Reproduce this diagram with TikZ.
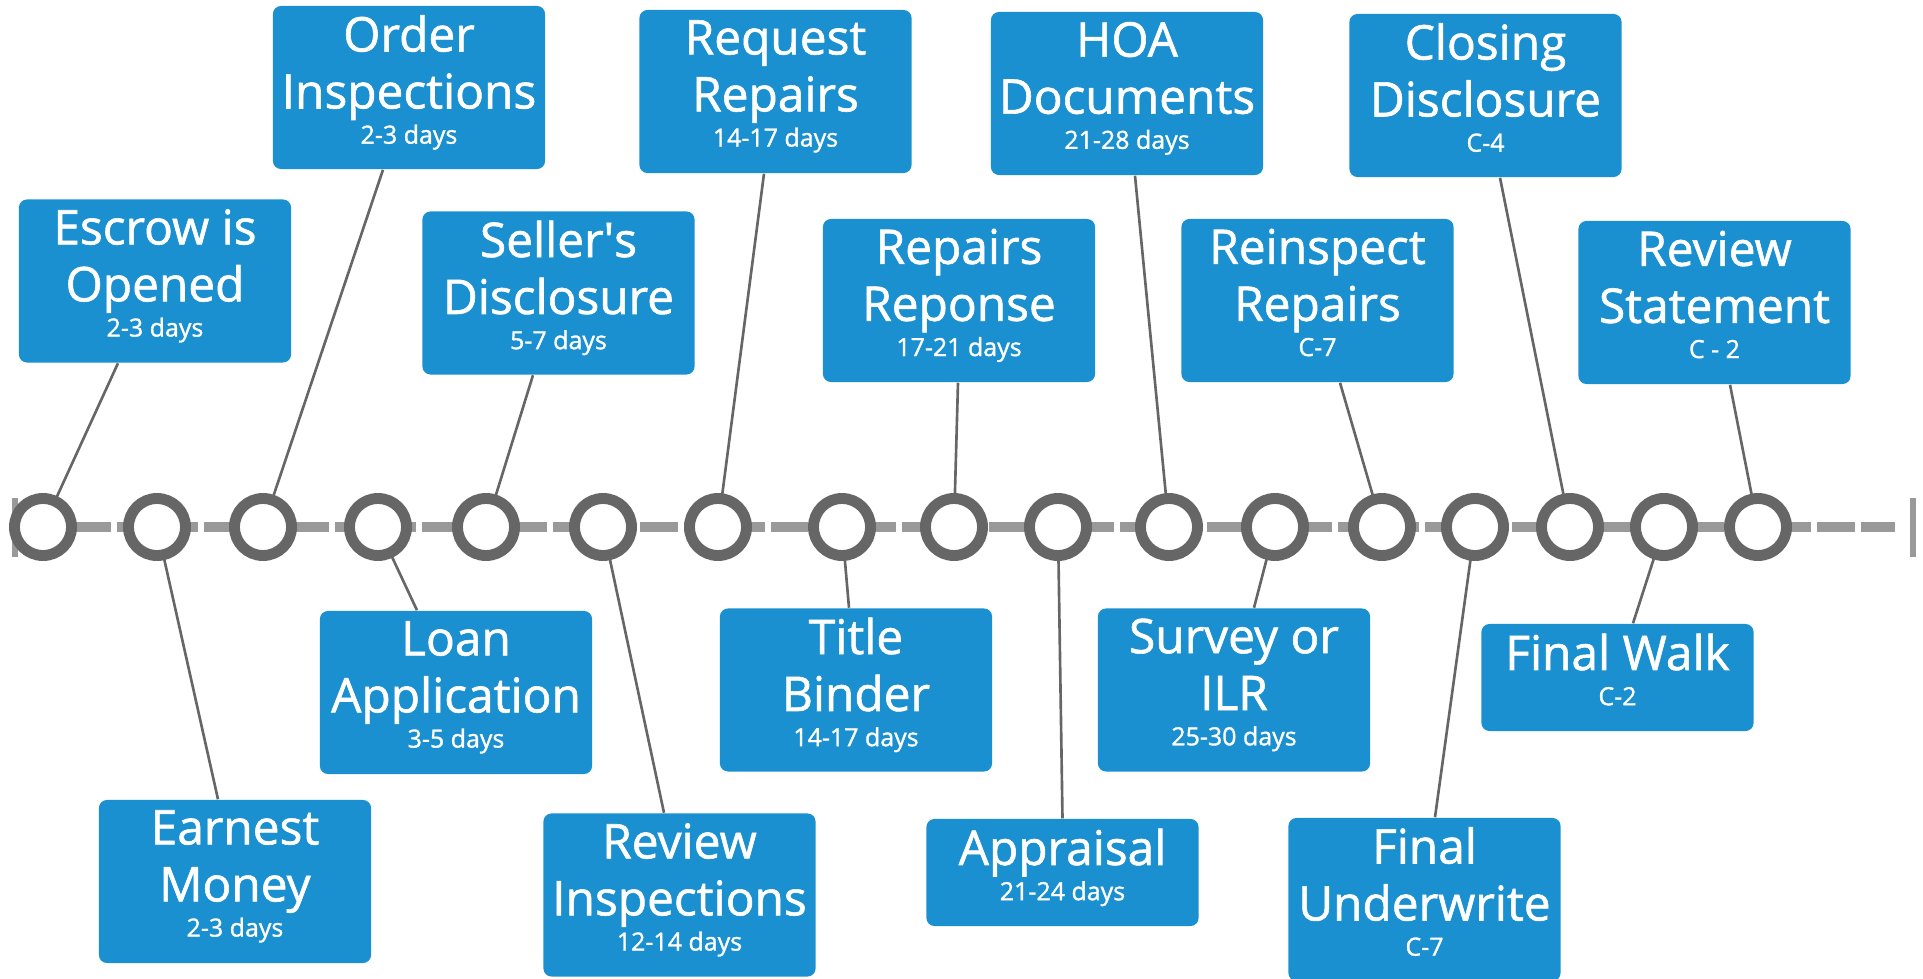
\documentclass[tikz,border=0pt]{standalone}
\usepackage{fontspec}
\setmainfont{Open Sans}[FakeBold=1.2,AutoFakeBold=1.2]
\usetikzlibrary{calc}
\definecolor{boxblue}{RGB}{27,144,208}
\definecolor{ringgray}{RGB}{102,102,102}
\definecolor{linegray}{RGB}{153,153,153}
\newcommand{\dur}[1]{{\fontsize{7.1}{8.5}\selectfont #1\rule[-4.6pt]{0pt}{0pt}}}

\begin{document}
\begin{tikzpicture}[x=0.01cm, y=-0.01cm,
  stage/.style={fill=boxblue, text=white, rounded corners=2.3pt, align=center,
    minimum width=2.72cm, minimum height=1.63cm, inner sep=0pt,
    font=\fontsize{13.6}{16.2}\selectfont\bfseries},
  short/.style={minimum height=1.07cm},
  link/.style={draw=ringgray, line width=0.75pt},
  ring/.style={draw=ringgray, fill=white, line width=3.1pt}]
\useasboundingbox (0,0) rectangle (1923,979);

% timeline
\draw[linegray, line width=3.1pt, dash pattern=on 10.64pt off 1.76pt, dash phase=9.1pt] (18,527) -- (1895,527);
\draw[linegray, line width=1.7pt] (15,498) -- (15,557);
\draw[linegray, line width=1.7pt] (1913,498) -- (1913,557);
\foreach \x [count=\i] in {43,157,263,378,486,603,718,842,954,1058,1169,1275,1382,1475,1570,1664,1758}
  \coordinate (c\i) at (\x,527);

% upper row
\node[stage] (esc) at (155,281) {Escrow is\\Opened\\[-6.2pt]\dur{2-3 days}};
\node[stage] (ord) at (409,87.5) {Order\\Inspections\\[-6.2pt]\dur{2-3 days}};
\node[stage] (sel) at (558.5,293) {Seller\textquotesingle s\\Disclosure\\[-6.2pt]\dur{5-7 days}};
\node[stage] (req) at (775.5,91.5) {Request\\Repairs\\[-6.2pt]\dur{14-17 days}};
\node[stage] (rep) at (959,300.5) {Repairs\\Reponse\\[-6.2pt]\dur{17-21 days}};
\node[stage] (hoa) at (1127,93.5) {HOA\\Documents\\[-6.2pt]\dur{21-28 days}};
\node[stage] (rei) at (1317.5,300.5) {Reinspect\\Repairs\\[-6.2pt]\dur{C-7}};
\node[stage] (clo) at (1485.5,95.5) {Closing\\Disclosure\\[-6.2pt]\dur{C-4}};
\node[stage] (rev) at (1714.5,302.5) {Review\\Statement\\[-6.2pt]\dur{C - 2}};

% lower row
\node[stage] (ern) at (235,881.5) {Earnest\\Money\\[-6.2pt]\dur{2-3 days}};
\node[stage] (loan) at (456,692.5) {Loan\\Application\\[-6.2pt]\dur{3-5 days}};
\node[stage] (rins) at (679.5,895) {Review\\Inspections\\[-6.2pt]\dur{12-14 days}};
\node[stage] (tit) at (856,690) {Title\\Binder\\[-6.2pt]\dur{14-17 days}};
\node[stage, short] (app) at (1062.5,872.5) {Appraisal\\[-6.2pt]\dur{21-24 days}};
\node[stage] (sur) at (1234,690) {Survey or\\ILR\\[-6.2pt]\dur{25-30 days}};
\node[stage] (fuw) at (1424.5,899.5) {Final\\Underwrite\\[-6.2pt]\dur{C-7}};
\node[stage, short] (fwk) at (1617.5,677.5) {Final Walk\\[-6.2pt]\dur{C-2}};

% connectors
\draw[link] ([xshift=-.37cm]esc.south) -- (c1);
\draw[link] ([xshift=-.26cm]ord.south) -- (c3);
\draw[link] ([xshift=-.255cm]sel.south) -- (c5);
\draw[link] ([xshift=-.115cm]req.south) -- (c7);
\draw[link] ([xshift=-.01cm]rep.south) -- (c9);
\draw[link] ([xshift=.08cm]hoa.south) -- (c11);
\draw[link] ([xshift=.225cm]rei.south) -- (c13);
\draw[link] ([xshift=.145cm]clo.south) -- (c15);
\draw[link] ([xshift=.155cm]rev.south) -- (c17);
\draw[link] ([xshift=-.17cm]ern.north) -- (c2);
\draw[link] ([xshift=-.39cm]loan.north) -- (c4);
\draw[link] ([xshift=-.155cm]rins.north) -- (c6);
\draw[link] ([xshift=-.07cm]tit.north) -- (c8);
\draw[link] (app.north) -- (c10);
\draw[link] ([xshift=.2cm]sur.north) -- (c12);
\draw[link] ([xshift=.105cm]fuw.north) -- (c14);
\draw[link] ([xshift=.155cm]fwk.north) -- (c16);

\foreach \i in {1,...,17}
  \draw[ring] (c\i) circle (0.285cm);
\end{tikzpicture}
\end{document}
